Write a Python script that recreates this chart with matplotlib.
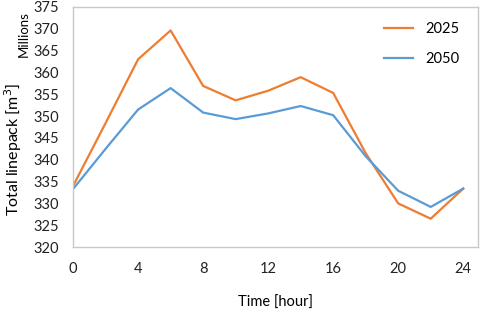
import matplotlib
matplotlib.use("Agg")
import matplotlib.pyplot as plt

# hourly linepack, millions of m3
hours = [0, 2, 4, 6, 8, 10, 12, 14, 16, 18, 20, 22, 24]
linepack_2025 = [334.0, 348.4, 363.0, 369.6, 356.9, 353.6, 355.8, 358.9, 355.3, 341.5, 330.0, 326.5, 333.4]
linepack_2050 = [333.3, 342.5, 351.5, 356.4, 350.8, 349.3, 350.6, 352.3, 350.2, 340.8, 332.9, 329.2, 333.4]

x_ticks = [0, 4, 8, 12, 16, 20, 24]
y_ticks = list(range(320, 376, 5))

plt.rcParams['font.family'] = ['Lato', 'DejaVu Sans']

fig = plt.figure(figsize=(4.84, 3.12), dpi=100)
ax = fig.add_axes([0.151, 0.208, 0.837, 0.770])

ax.plot(hours, linepack_2025, color='#ED7D31', lw=1.6, label='2025')
ax.plot(hours, linepack_2050, color='#5B9BD5', lw=1.6, label='2050')

ax.set_xlim(0, 24.92)
ax.set_ylim(320, 375)
ax.set_xticks(x_ticks)
ax.set_yticks(y_ticks)
ax.tick_params(length=0, labelsize=10.5, colors='#222222')
ax.tick_params(axis='x', pad=11)
ax.tick_params(axis='y', pad=10)

for s in ax.spines.values():
    s.set_color('#c8c8c8')
    s.set_linewidth(1.0)

ax.set_xlabel('Time [hour]', fontsize=10.5, labelpad=14)
fig.text(0.027, 0.52, 'Total linepack [m$^3$]', rotation=90, fontsize=11.5, va='center', ha='center')
fig.text(0.050, 0.89, 'Millions', rotation=90, fontsize=9.5, va='center', ha='center')

ax.legend(loc='upper right', frameon=False, fontsize=10.5, handlelength=2.0,
          labelspacing=1.1, bbox_to_anchor=(0.985, 0.99))

fig.savefig('out.png', dpi=100)
